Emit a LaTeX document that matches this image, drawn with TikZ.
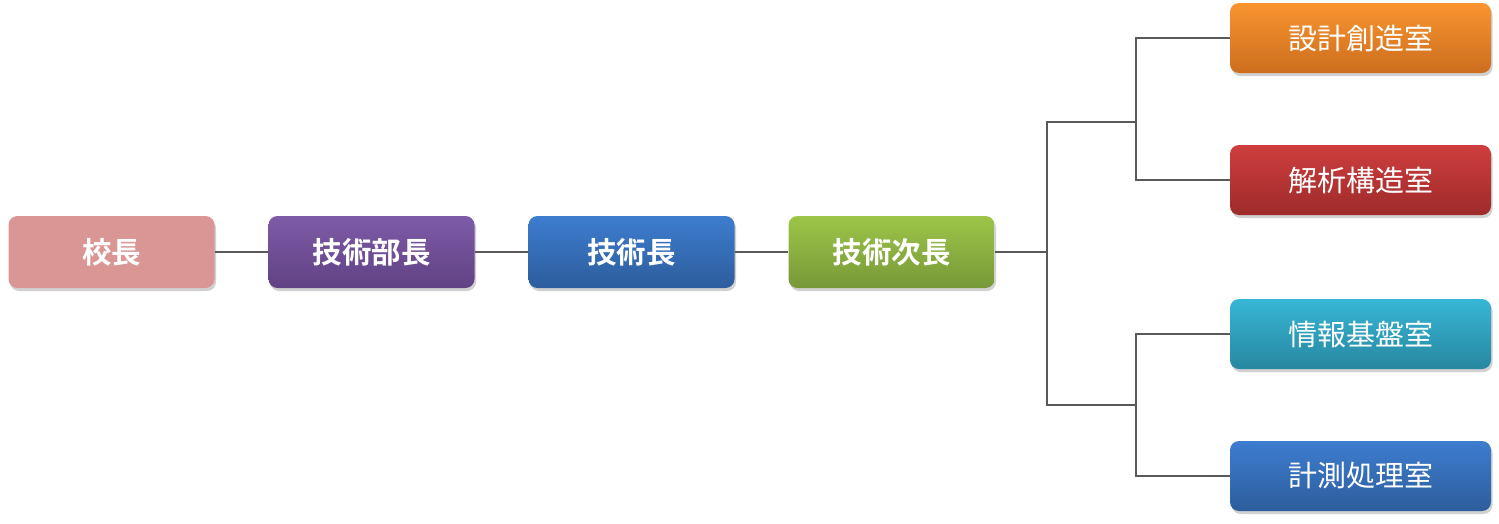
\documentclass[tikz,border=0pt]{standalone}
\usepackage{fontspec}
\newfontfamily\jp{Noto Sans CJK JP}
\newfontfamily\jpb{Noto Sans CJK JP Bold}
\usetikzlibrary{shadows}
\definecolor{pinkA}{HTML}{D99694}
\definecolor{purT}{HTML}{7E5BA8}\definecolor{purB}{HTML}{614283}
\definecolor{bluT}{HTML}{3D7DCF}\definecolor{bluB}{HTML}{2D5D9C}
\definecolor{grnT}{HTML}{9DC548}\definecolor{grnB}{HTML}{779838}
\definecolor{orgT}{HTML}{F99430}\definecolor{orgB}{HTML}{CC6E1E}
\definecolor{redT}{HTML}{CF3E3E}\definecolor{redB}{HTML}{9E2A2A}
\definecolor{cyaT}{HTML}{37B6D6}\definecolor{cyaB}{HTML}{27879F}
\definecolor{lineC}{HTML}{595959}
\tikzset{
  x=1pt,y=-1pt,
  box/.style={rounded corners=9pt, minimum width=#1, text=white, inner sep=0pt,
    drop shadow={shadow xshift=1.5pt,shadow yshift=-3pt,opacity=0.3,fill=black!60}},
  lbox/.style={box=206pt, minimum height=72pt, font=\jpb\fontsize{29.5}{32}\selectfont},
  rbox/.style={box=261pt, minimum height=70pt, font=\jp\fontsize{29}{32}\selectfont},
  grad/.style 2 args={top color=#1, bottom color=#2},
  conn/.style={draw=lineC, line width=1.6pt},
}
\begin{document}
\begin{tikzpicture}
\useasboundingbox (0,0) rectangle (1499,523);
\node[lbox, fill=pinkA] (kocho) at (111.5,252) {\raisebox{-2pt}{校長}};
\node[lbox, grad={purT}{purB}] (bucho) at (371.5,252) {\raisebox{-2pt}{技術部長}};
\node[lbox, grad={bluT}{bluB}] (gicho) at (631.5,252) {\raisebox{-2pt}{技術長}};
\node[lbox, grad={grnT}{grnB}] (jicho) at (891.5,252) {\raisebox{-2pt}{技術次長}};
\node[rbox, grad={orgT}{orgB}] (sekkei) at (1360.5,38) {\raisebox{-2pt}{設計創造室}};
\node[rbox, grad={redT}{redB}] (kaiseki) at (1360.5,180) {\raisebox{-2pt}{解析構造室}};
\node[rbox, grad={cyaT}{cyaB}] (joho) at (1360.5,334) {\raisebox{-2pt}{情報基盤室}};
\node[rbox, grad={bluT}{bluB}] (keisoku) at (1360.5,476) {\raisebox{-2pt}{計測処理室}};
\coordinate (j1) at (1047,252);
\coordinate (ja) at (1136,122);
\coordinate (jb) at (1136,405);
\draw[conn] (kocho.east) -- (bucho.west);
\draw[conn] (bucho.east) -- (gicho.west);
\draw[conn] (gicho.east) -- (jicho.west);
\draw[conn] (jicho.east) -- (j1);
\draw[conn] (ja) -- (j1 |- ja) -- (j1 |- jb) -- (jb);
\draw[conn] (sekkei.west) -- (ja |- sekkei.west) -- (ja |- kaiseki.west) -- (kaiseki.west);
\draw[conn] (joho.west) -- (jb |- joho.west) -- (jb |- keisoku.west) -- (keisoku.west);
\end{tikzpicture}
\end{document}
